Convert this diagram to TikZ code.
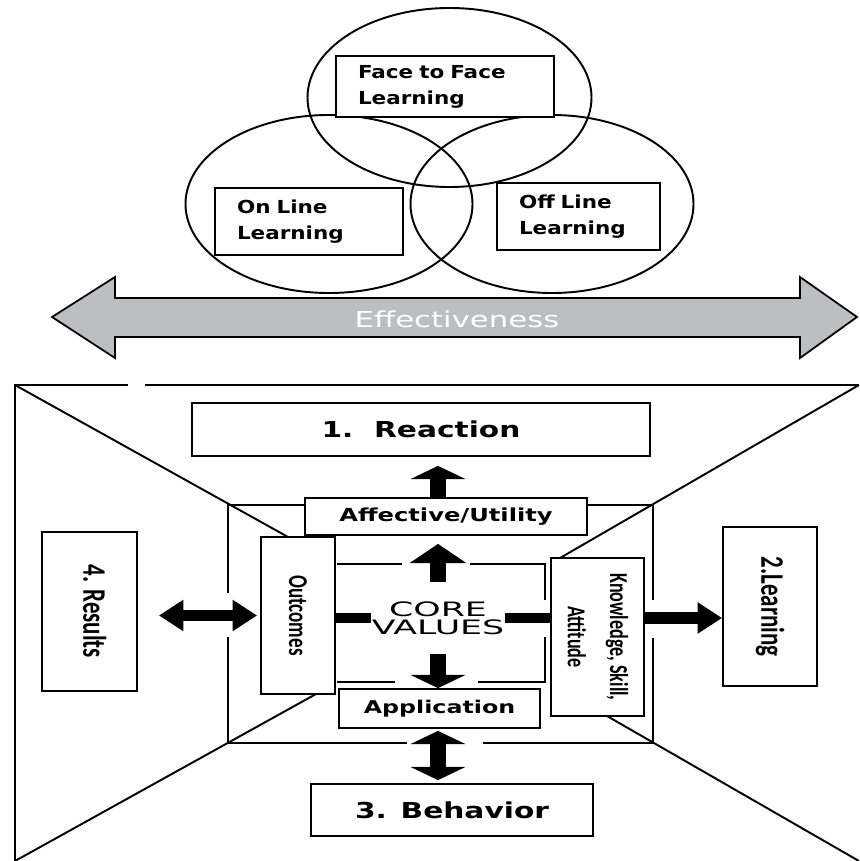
\documentclass[tikz,border=0pt]{standalone}
\usepackage{fontspec}
\usetikzlibrary{arrows.meta}
\newfontfamily\boxfont[FakeStretch=1.35]{DejaVu Sans}
\newfontfamily\vennfont[FakeStretch=1.2]{DejaVu Sans}
\newfontfamily\slimfont[FakeStretch=0.7]{Carlito}
\newfontfamily\corefont[FakeStretch=1.75]{DejaVu Sans}
\newfontfamily\bandfont[FakeStretch=1.4]{DejaVu Sans}
\definecolor{bandgray}{RGB}{188,190,194}

\begin{document}
\begin{tikzpicture}[x=0.02cm, y=-0.02cm, line width=1.1pt,
		box/.style={draw, fill=white, line width=1pt, inner sep=0pt},
		vennbox/.style={box, align=left, inner xsep=0.44cm, font=\vennfont\bfseries\fontsize{10.2}{14.7}\selectfont},
		tallhead/.tip={Triangle[length=11pt, width=32pt]},
		flathead/.tip={Triangle[length=7.5pt, width=31pt]},
		sidehead/.tip={Triangle[length=14pt, width=17pt]},
		shaft/.style={line width=9pt},
		thinshaft/.style={line width=5.7pt}]
			%%%%% START %%%%%
			\useasboundingbox (0,0) rectangle (859,861);
			
			\draw (449.5,97.5) ellipse [x radius=142, y radius=89.5];
			\draw (329,204) ellipse [x radius=143.5, y radius=89];
			\draw (552,204) ellipse [x radius=141.5, y radius=89];
			
			\node[vennbox, text width=3.48cm, minimum height=1.22cm] (f2f) at (445,86.5) {Face to Face\\Learning};
			\node[vennbox, text width=2.88cm, minimum height=1.34cm] (online) at (309,221.5) {On Line\\Learning};
			\node[vennbox, text width=2.38cm, minimum height=1.34cm] (offline) at (578.5,216.5) {Off Line\\Learning};
			
			\draw[fill=bandgray, line width=1pt] (52,317) -- (115,277) -- (115,298) -- (800,298) -- (800,277) -- (857,317) -- (800,358) -- (800,337) -- (115,337) -- (115,358) -- cycle;
			\node[text=white, font=\bandfont\fontsize{12.5}{15}\selectfont] (band) at (457,319) {Effectiveness};
			
			\draw (15,861) -- (15,385) -- (128,385);
			\draw (145,385) -- (859,385);
			\draw (15,385) -- (288,537);
			\draw (15,861) -- (316,694);
			\draw (859,385) -- (560,558);
			\draw (859,861) -- (607,716);
			
			\draw (228,593) -- (228,505) -- (653,505) -- (653,600);
			\draw (228,637) -- (228,743) -- (407,743);
			\draw (483,743) -- (653,743) -- (653,638);
			
			\draw[line width=0.8pt] (337,564) -- (402,564) (470,564) -- (545,564) -- (545,600) (545,637) -- (545,682) -- (478,682) (395,682) -- (337,682);
			
			\node[box, minimum width=9.16cm, minimum height=1.06cm, font=\boxfont\bfseries\fontsize{12.5}{15}\selectfont] (reaction) at (421,429.5) {1.~~Reaction};
			\node[box, minimum width=5.64cm, minimum height=0.74cm, font=\boxfont\bfseries\fontsize{10.2}{12}\selectfont] (affect) at (446,516.5) {Affective/Utility};
			\node[box, minimum width=4.02cm, minimum height=0.78cm, font=\boxfont\bfseries\fontsize{10}{12}\selectfont] (app) at (439.5,708.5) {Application};
			\node[box, minimum width=5.64cm, minimum height=1.04cm, font=\boxfont\bfseries\fontsize{12.5}{15}\selectfont] (behav) at (452,810) {3. Behavior};
			
			\node[box, minimum width=1.9cm, minimum height=3.18cm] (results) at (89.5,611.5) {\hspace{6pt}\rotatebox{-90}{\slimfont\bfseries\fontsize{18.7}{22}\selectfont 4. Results}};
			\node[box, minimum width=1.88cm, minimum height=3.18cm] (learn) at (770,606.5) {\rotatebox{-90}{\slimfont\bfseries\fontsize{18.7}{22}\selectfont 2.Learning}};
			\node[box, minimum width=1.48cm, minimum height=3.14cm] (outcomes) at (298,615.5) {\rotatebox{-90}{\slimfont\bfseries\fontsize{15.5}{18}\selectfont Outcomes}};
			\node[box, minimum width=1.86cm, minimum height=3.16cm] (know) at (597.5,637) {\rotatebox{-90}{\slimfont\bfseries\fontsize{14.7}{24}\selectfont\begin{tabular}{@{}c@{}}Knowledge, Skill,\\Attitude\end{tabular}}\hspace{8.5pt}};
			
			\node[font=\corefont\fontsize{11.3}{10.4}\selectfont, align=center, minimum width=2.6cm, minimum height=1.16cm, inner sep=0pt] (core) at (438,618) {CORE\\VALUES};
			
			\draw[shaft, -tallhead, shorten <=0.12cm, shorten >=0.16cm] (core.north) -- (core.north |- affect.south);
			\draw[shaft, -flathead, shorten >=0.18cm] (core |- affect.north) -- (core |- reaction.south);
			\draw[shaft, -flathead, shorten <=0.12cm] (core.south) -- (core.south |- app.north);
			\draw[shaft, flathead-flathead, shorten <=0.04cm, shorten >=0.06cm] (core |- app.south) -- (core |- behav.north);
			\draw[thinshaft, sidehead-sidehead, shorten <=0.42cm, shorten >=0.06cm] (results.east |- outcomes.west) -- (outcomes.west);
			\draw[thinshaft] (outcomes.east |- core) -- (core.west);
			\draw[thinshaft] (core.east) -- (core.east -| know.west);
			\draw[line width=6.8pt, -sidehead] (know.east |- core) -- (learn.west |- core);
			%%%%% END %%%%%
\end{tikzpicture}
\end{document}
